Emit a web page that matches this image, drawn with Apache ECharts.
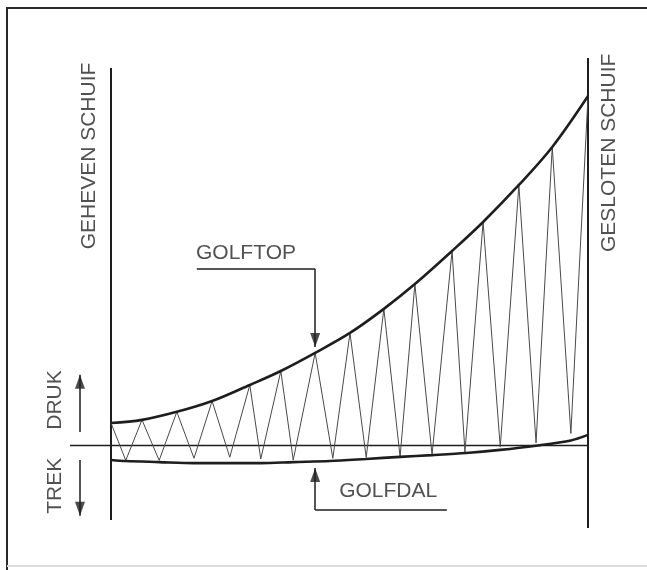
<!DOCTYPE html>
<html>
<head>
<meta charset="utf-8">
<style>
  html, body { margin: 0; padding: 0; background: #fff; }
  #chart { width: 647px; height: 570px; }
</style>
<script src="https://cdn.jsdelivr.net/npm/echarts@6/dist/echarts.min.js"></script>
</head>
<body>
<div id="chart"></div>
<script>
// x: stroke position, 0 = geheven schuif, 100 = gesloten schuif
// y: pressure, > 0 druk, < 0 trek
const peakX = [0, 6.5, 13.8, 21.2, 29.1, 35.6, 42.8, 50.1, 57.2, 63.7, 71.5, 78.0, 85.5, 92.5, 100];
const peakY = [6.3, 7.2, 9.5, 12.6, 17.2, 21.2, 26.4, 32.1, 39.0, 46.1, 55.6, 63.9, 74.5, 85.4, 100];
const valleyX = [3.1, 10.1, 17.4, 24.9, 31.4, 38.2, 46.5, 53.5, 60.6, 67.3, 74.2, 81.6, 89.1, 96.4];
const valleyY = [-4.4, -4.4, -3.8, -3.5, -4.0, -4.3, -3.8, -3.6, -3.4, -2.8, -2.0, -0.6, 0.6, 3.3];
const lowX = [0, 3.1, 10.1, 17.4, 24.9, 31.4, 38.2, 45.9, 53.5, 60.6, 67.3, 74.4, 81.6, 89.1, 96.4, 100];
const lowY = [-4.3, -4.6, -4.9, -5.2, -5.2, -5.2, -4.9, -4.6, -4.0, -3.4, -2.9, -2.3, -1.4, -0.2, 1.3, 2.9];

// vertical walls (schuif open / dicht) and the zero line
const wallX = [0, 100];
const wallTop = [108, 110.9];
const wallBottom = [-21.5, -23.8];
const baseFrom = -8.6;

// annotations
const labelText = ["GEHEVEN SCHUIF", "GESLOTEN SCHUIF", "GOLFTOP", "GOLFDAL", "DRUK", "TREK"];
const labelX = [-4.6, 104.4, 28.3, 58.1, -11.6, -11.6];
const labelY = [82.8, 83.7, 55.0, -13.2, 12.9, -11.7];
const verticalLabels = ["GEHEVEN SCHUIF", "GESLOTEN SCHUIF", "DRUK", "TREK"];

// leader lines: [fromX, fromY, toX, toY]; arrows end at the second point
const leaderTop = [[18.0, 50.4, 42.8, 50.4], [42.8, 50.4, 42.8, 28.1]];
const leaderDal = [[70.4, -18.6, 42.8, -18.6], [42.8, -18.6, 42.8, -6.6]];
const arrowDruk = [-6.5, 3.7, -6.5, 20.1];
const arrowTrek = [-6.5, -4.3, -6.5, -20.3];

const INK = "#1e1e1e";
const FONT = "'Liberation Sans', Arial, sans-serif";

const zip = (xs, ys) => xs.map((x, i) => [x, ys[i]]);

const zigzag = [];
peakX.forEach((x, i) => {
  zigzag.push([x, peakY[i]]);
  if (i < valleyX.length) zigzag.push([valleyX[i], valleyY[i]]);
});

const segments = [
  ...wallX.map((x, i) => ({ coords: [[x, wallTop[i]], [x, wallBottom[i]]], lineStyle: { width: 2 } })),
  { coords: [[baseFrom, 0], [100, 0]], lineStyle: { width: 1.4 } },
  ...[...leaderTop, ...leaderDal, arrowDruk, arrowTrek].map((s) => ({
    coords: [[s[0], s[1]], [s[2], s[3]]],
    lineStyle: { width: 1.5 },
  })),
];

// arrow heads sit with their tip on the end point of each leader
const heads = [leaderTop[1], leaderDal[1], arrowDruk, arrowTrek].map((s) => {
  const down = s[3] < s[1];
  return {
    value: [s[2], s[3]],
    symbolRotate: down ? 180 : 0,
    symbolOffset: [0, down ? "-50%" : "50%"],
  };
});

const labels = labelText.map((t, i) => ({
  name: t,
  value: [labelX[i], labelY[i]],
  label: { rotate: verticalLabels.includes(t) ? 90 : 0 },
}));

const chart = echarts.init(document.getElementById("chart"), null, { renderer: "canvas" });

chart.setOption({
  animation: false,
  backgroundColor: "#ffffff",
  grid: { left: 44.2, right: 20.8, top: 54.1, bottom: 37.75 },
  xAxis: { type: "value", min: -14, max: 108, show: false },
  yAxis: { type: "value", min: -25, max: 112, show: false },
  graphic: [
    {
      type: "polyline",
      shape: { points: [[7, 570], [7, 8], [647, 8]] },
      style: { stroke: "#2a2a2a", lineWidth: 2, fill: null },
      silent: true,
    },
    {
      type: "line",
      shape: { x1: 7, y1: 566, x2: 647, y2: 566 },
      style: { stroke: "#dcdcdc", lineWidth: 2 },
      silent: true,
    },
  ],
  series: [
    {
      name: "golftop",
      type: "line",
      data: zip(peakX, peakY),
      smooth: 0.35,
      symbol: "none",
      lineStyle: { color: INK, width: 2.6 },
      z: 4,
    },
    {
      name: "golfdal",
      type: "line",
      data: zip(lowX, lowY),
      smooth: 0.3,
      symbol: "none",
      lineStyle: { color: INK, width: 2.6 },
      z: 4,
    },
    {
      name: "druk",
      type: "line",
      data: zigzag,
      symbol: "none",
      lineStyle: { color: "#4a4a4a", width: 1 },
      z: 3,
    },
    {
      name: "guides",
      type: "lines",
      coordinateSystem: "cartesian2d",
      data: segments,
      symbol: "none",
      lineStyle: { color: INK, opacity: 1 },
      z: 2,
    },
    {
      name: "heads",
      type: "scatter",
      data: heads,
      symbol: "triangle",
      symbolSize: [10, 14],
      itemStyle: { color: INK },
      z: 5,
    },
    {
      name: "labels",
      type: "scatter",
      data: labels,
      symbolSize: 0,
      label: {
        show: true,
        position: "inside",
        formatter: "{b}",
        color: "#262626",
        fontFamily: FONT,
        fontSize: 21,
      },
      z: 6,
    },
  ],
});
</script>
</body>
</html>
